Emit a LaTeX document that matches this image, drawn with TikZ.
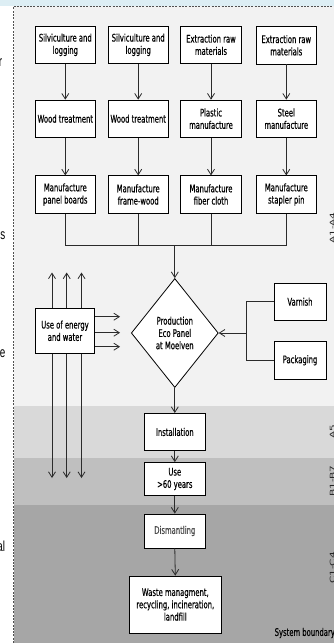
\documentclass[tikz,border=0pt]{standalone}
\usepackage{fontspec}
\usepackage{graphicx}
\setmainfont{DejaVu Sans}
\newfontfamily\dfont[FakeStretch=0.65,FakeBold=0.4]{DejaVu Sans}
\newfontfamily\afont[FakeStretch=0.68]{Liberation Sans}
\usetikzlibrary{arrows.meta,shapes.geometric}
\definecolor{topblue}{HTML}{DDEEF4}
\definecolor{bandA}{HTML}{F2F2F2}
\definecolor{bandB}{HTML}{D9D9D9}
\definecolor{bandC}{HTML}{BFBFBF}
\definecolor{bandD}{HTML}{A6A6A6}
\definecolor{lncol}{HTML}{2B2B2B}
\definecolor{dimtext}{HTML}{4A4A4A}
\definecolor{bordcol}{HTML}{505050}
\begin{document}
\begin{tikzpicture}[x=1pt,y=-1pt,
  box/.style={draw=black, line width=0.8pt, fill=white, inner sep=0pt, align=center,
    font=\dfont\fontsize{10.5}{12.3}\selectfont, text=black},
  rowbox/.style={box, minimum width=60.5pt, minimum height=37.3pt},
  conn/.style={draw=lncol, line width=0.8pt},
  arr/.style={conn, -{Straight Barb[length=5.5pt,width=7pt,line width=0.8pt]}},
  sidelab/.style={inner sep=0pt, font=\fontsize{10.5}{12}\selectfont, text=black!85},
  stray/.style={inner sep=0pt, font=\afont\fontsize{14.5}{16}\selectfont, text=black}
]
\useasboundingbox (0,0) rectangle (334,643);
\clip (0,0) rectangle (334,643);
% backgrounds
\fill[white] (0,0) rectangle (334,643);
\fill[topblue] (0,0) rectangle (334,5.5);
\fill[bandA] (13.5,6) rectangle (334,406);
\fill[bandB] (13.5,406) rectangle (334,457.5);
\fill[bandC] (13.5,457.5) rectangle (334,505);
\fill[bandD] (13.5,505) rectangle (334,643);
\draw[draw=bordcol, line width=0.8pt, dash pattern=on 2pt off 1.3pt] (13.5,643) -- (13.5,6.3) -- (334,6.3);

% stray text fragments at left edge
\node[stray, anchor=base east] (s1) at (2.3,66) {r};
\node[stray, anchor=base east] (s2) at (5.5,239) {s};
\node[stray, anchor=base east] (s3) at (5.5,357) {e};
\node[stray, anchor=base east] (s4) at (5.2,551) {al};

% row 1
\node[rowbox] (a1) at (65.3,44.8) {Silviculture and\\logging};
\node[rowbox] (a2) at (138.2,44.8) {Silviculture and\\logging};
\node[rowbox] (a3) at (211,44.8) {Extraction raw\\materials};
\node[rowbox] (a4) at (286.3,45.3) {Extraction raw\\materials};
% row 2
\node[rowbox] (b1) at (65.3,118.7) {Wood treatment};
\node[rowbox] (b2) at (138.2,118.7) {Wood treatment};
\node[rowbox] (b3) at (211,118.7) {Plastic\\manufacture};
\node[rowbox] (b4) at (286.3,118.7) {Steel\\manufacture};
% row 3
\node[rowbox] (c1) at (65.3,194.5) {Manufacture\\panel boards};
\node[rowbox] (c2) at (138.2,194.5) {Manufacture\\frame-wood};
\node[rowbox] (c3) at (211,194.5) {Manufacture\\fiber cloth};
\node[rowbox] (c4) at (286.3,194.5) {Manufacture\\stapler pin};

% vertical arrows in columns
\foreach \i in {1,2,3,4}{
  \draw[arr] (a\i.south) -- (b\i.north);
  \draw[arr] (b\i.south) -- (c\i.north);
}

% merge
\coordinate (mg) at (174.8,245);
\draw[conn] (c1.south) -- (c1.south |- mg) -- (c4.south |- mg) -- (c4.south);
\draw[conn] (c2.south) -- (c2.south |- mg);
\draw[conn] (c3.south) -- (c3.south |- mg);

% diamond
\node[box, diamond, aspect=0.8, minimum width=87pt, minimum height=109pt] (dia) at (174.8,333) {Production\\Eco Panel\\at Moelven};
\draw[arr] (mg) -- (dia.north);

% energy and water
\node[box, minimum width=58.6pt, minimum height=45pt] (en) at (65,330.8) {Use of energy\\and water};
\foreach \k/\xx in {1/52,2/66.7,3/81.5}{
  \coordinate (up\k) at (\xx,272.5);
  \draw[arr] (up\k |- en.north) -- (up\k);
  \coordinate (dn\k) at (\xx,478);
  \draw[arr] (dn\k |- en.south) -- (dn\k);
}
\foreach \k/\yy in {1/316.7,2/332.7,3/346.7}{
  \coordinate (rt\k) at (120,\yy);
  \draw[arr] (en.east |- rt\k) -- (rt\k);
}

% varnish and packaging
\node[box, minimum width=52pt, minimum height=36.7pt] (var) at (300,301.7) {Varnish};
\node[box, minimum width=52pt, minimum height=37.3pt] (pak) at (300,360.3) {Packaging};
\coordinate (jn) at (246,333);
\draw[conn] (var.west) -- (var.west -| jn) -- (pak.west -| jn) -- (pak.west);
\draw[arr] (jn) -- (dia.east);

% lower chain
\node[box, minimum width=60.7pt, minimum height=37.2pt] (inst) at (174.8,432) {Installation};
\node[box, minimum width=60.7pt, minimum height=33pt] (use) at (174.8,479) {Use\\>60 years};
\node[box, minimum width=60.5pt, minimum height=34pt, text=dimtext] (dis) at (174.8,531) {Dismantling};
\node[box, minimum width=91.5pt, minimum height=57pt] (waste) at (175.3,604.5) {Waste managment,\\recycling, incineration,\\landfill};
\draw[arr] (dia.south) -- (inst.north);
\draw[arr] (inst.south) -- (use.north);
\draw[arr] (use.south) -- (dis.north);
\draw[arr] (dis.south) -- (waste.north);

% side labels (cut by the edge, as in the reference)
\node[sidelab] (l1) at (332.5,228) {\scalebox{0.65}[1]{\rotatebox{90}{A1-A4}}};
\node[sidelab] (l2) at (332.5,432) {\scalebox{0.65}[1]{\rotatebox{90}{A5}}};
\node[sidelab] (l3) at (332.5,481) {\scalebox{0.65}[1]{\rotatebox{90}{B1-B7}}};
\node[sidelab] (l4) at (332.5,568) {\scalebox{0.65}[1]{\rotatebox{90}{C1-C4}}};
\node[anchor=west, inner sep=0pt, font=\dfont\fontsize{10.5}{12}\selectfont, text=black] (sb) at (274.5,633) {System boundary};
\end{tikzpicture}
\end{document}
